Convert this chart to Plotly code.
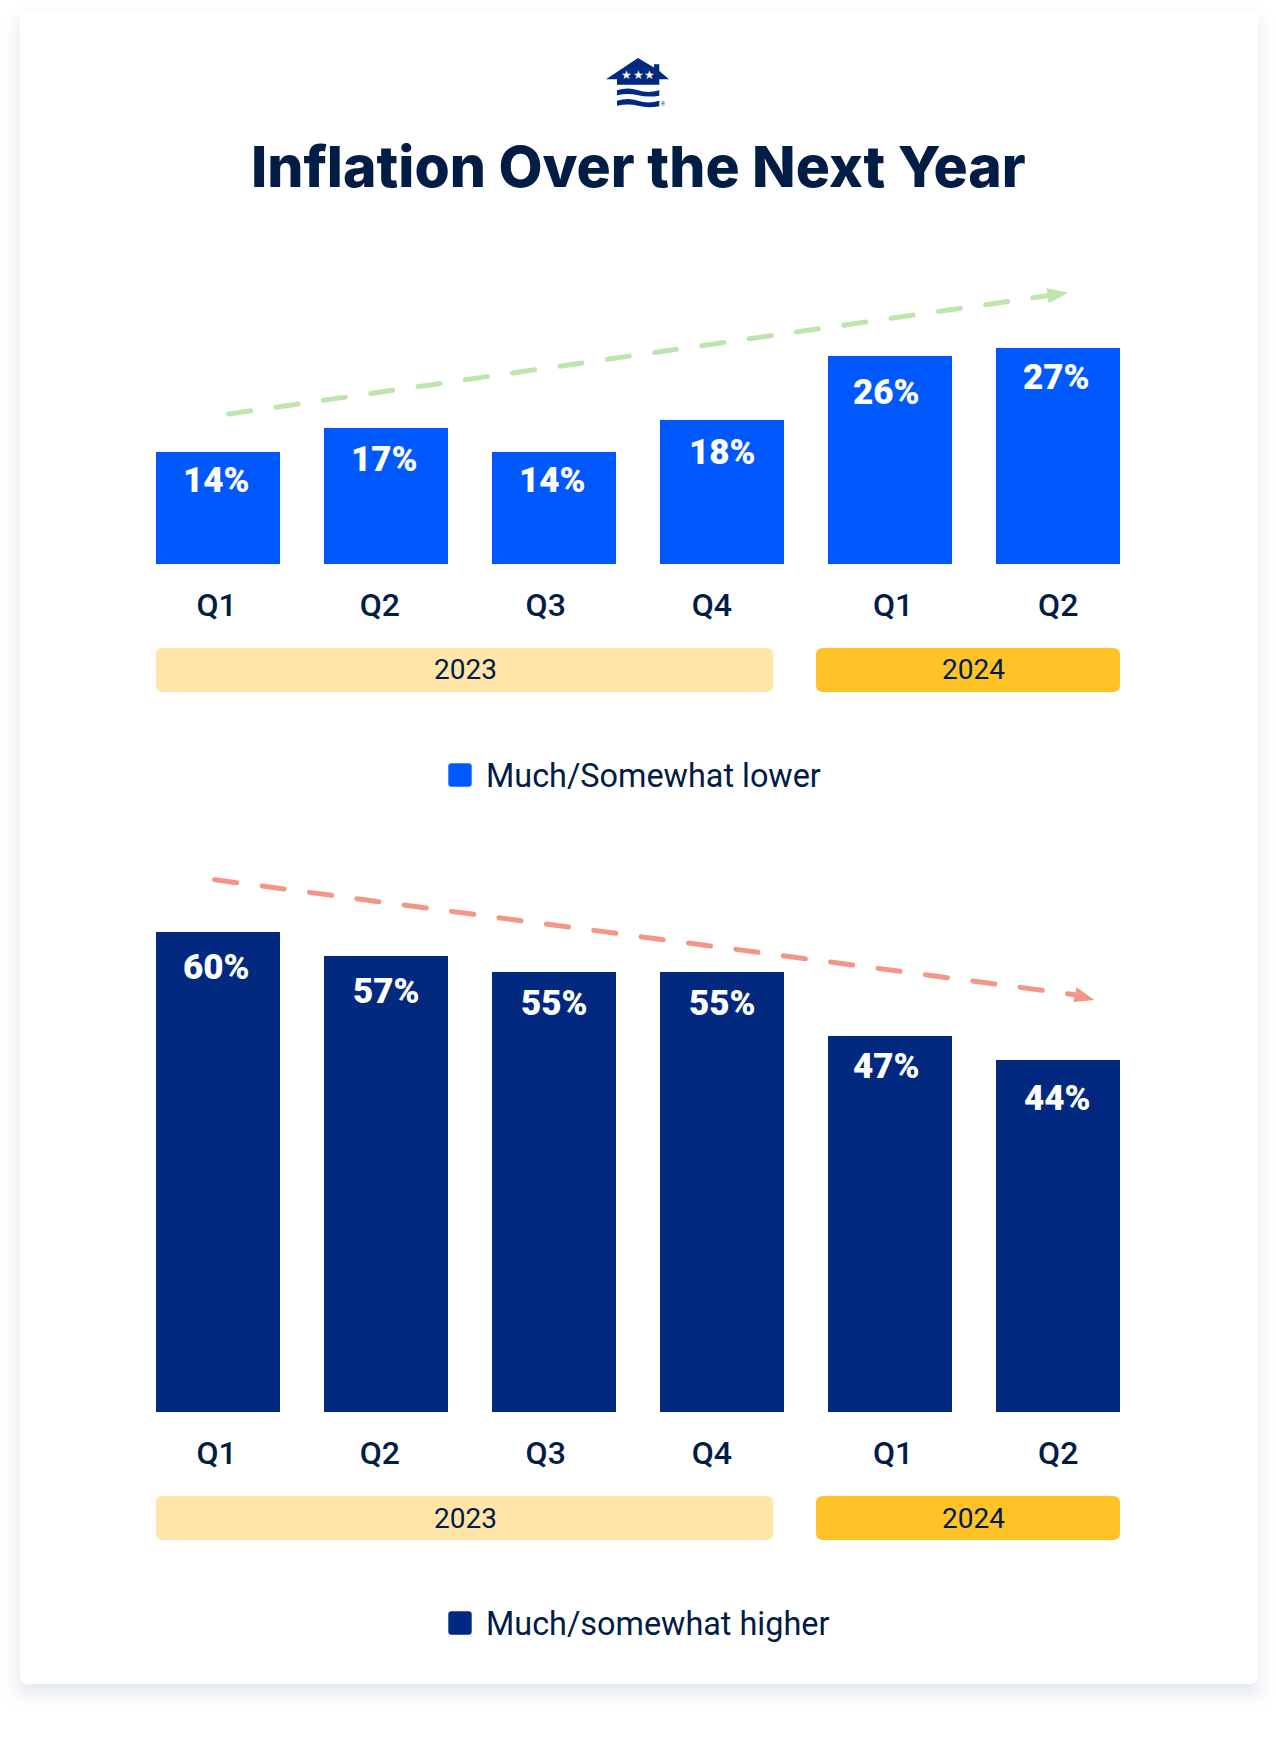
""" Inflation expectations chart """

import plotly.graph_objects as go

#### Data ####

quarters = ['Q1', 'Q2', 'Q3', 'Q4', 'Q1', 'Q2']
lower = [14, 17, 14, 18, 26, 27]
higher = [60, 57, 55, 55, 47, 44]
years = ['2023', '2024']
lower_name = 'Much/Somewhat lower'
higher_name = 'Much/somewhat higher'
title = 'Inflation Over the Next Year'

#### Colours, fonts and page layout (in pixels of the 1276x1742 page) ####

W, H = 1276, 1742
INK = '#011C45'
BLUE = '#0059FF'
NAVY = '#00297F'
PALE_GOLD = '#FFE6A8'
GOLD = '#FFC328'
GREEN = '#BFE5AE'
SALMON = '#F49586'
TITLE_FONT = 'Inter'
BODY_FONT = 'Roboto'

BAR_STEP = 168          # px between bar centres
BAR_W = 124
FIRST_BAR = 218

# the labels in the original sit slightly off the bar centres
tick_dx = [-1.5, -6.2, -8.3, -10.2, 3, 0.2]
lower_dx = [-1.3, -1.2, -1.3, 0.3, -3.3, -1.3]
lower_dy = [28.5, 31.5, 28.5, 32.3, 36.5, 30]
higher_dx = [-1.6, 0.7, 0.7, 0.3, -3.3, -1]
higher_dy = [35.7, 35.4, 31.7, 31.7, 30, 38.5]


def px(x):
    return x / W


def py(y):
    return 1 - y / H


def rounded(x0, y0, x1, y1, r):
    return (f'M {px(x0 + r)} {py(y0)} L {px(x1 - r)} {py(y0)} Q {px(x1)} {py(y0)} {px(x1)} {py(y0 + r)} '
            f'L {px(x1)} {py(y1 - r)} Q {px(x1)} {py(y1)} {px(x1 - r)} {py(y1)} '
            f'L {px(x0 + r)} {py(y1)} Q {px(x0)} {py(y1)} {px(x0)} {py(y1 - r)} '
            f'L {px(x0)} {py(y0 + r)} Q {px(x0)} {py(y0)} {px(x0 + r)} {py(y0)} Z')


def poly(points):
    return 'M ' + ' L '.join(f'{px(x)} {py(y)}' for x, y in points) + ' Z'


def path_shape(path, color, layer='below'):
    return dict(type='path', xref='paper', yref='paper', path=path, fillcolor=color,
                line=dict(width=0), layer=layer)


def text_note(x, y, text, size, color=INK, family=BODY_FONT, weight=400, xanchor='center'):
    return dict(xref='paper', yref='paper', x=px(x), y=py(y), text=text, showarrow=False,
                xanchor=xanchor, yanchor='middle', font=dict(family=family, size=size, color=color, weight=weight))


shapes = []
notes = []

#### Card with soft shadow ####

for e in range(24, -11, -2):
    t = ((24 - e) / 34) ** 2
    shade = f'rgb({round(255 - 31 * t)},{round(255 - 26 * t)},{round(255 - 14 * t)})'
    shapes.append(path_shape(rounded(20 - e, 22 - e, 1258 + e, 1694 + e, 10 + max(e, 0)), shade))
shapes.append(path_shape(rounded(20, 12, 1258, 1684, 8), '#FFFFFF'))

#### Logo ####

shapes.append(path_shape(poly([(638, 58), (654, 67.5), (654, 64.3), (659.3, 64.3), (659.3, 71), (669, 79.3),
                               (659.3, 79.3), (659.3, 84.7), (617, 84.7), (617, 79.3), (606, 79.3)]), NAVY))
for y0 in (88.7, 99.3):
    shapes.append(path_shape(
        f'M {px(617)} {py(y0 + 1.5)} Q {px(628)} {py(y0 - 2)} {px(638)} {py(y0 + 1.5)} '
        f'T {px(659.3)} {py(y0 + 1.5)} L {px(659.3)} {py(y0 + 7)} '
        f'Q {px(648)} {py(y0 + 9)} {px(638)} {py(y0 + 6.5)} T {px(617)} {py(y0 + 6.5)} Z', NAVY))
for sx in (626.3, 638, 649.3):
    notes.append(text_note(sx, 74.7, '★', 12, color='#FFFFFF', family='DejaVu Sans'))
notes.append(text_note(662.7, 104, '®', 5, color=NAVY))

notes.append(text_note(W / 2 + 0.8, 166, title, 57, family=TITLE_FONT, weight=800))

#### Charts ####

fig = go.Figure()


def add_chart(n, values, color, top_value, base, shift, label_dx, label_dy, legend, arrow):
    xa, ya = f'x{n}', f'y{n}'
    fig.add_trace(go.Bar(x=list(range(len(values))), y=values, marker=dict(color=color, line=dict(width=0)),
                         width=BAR_W / BAR_STEP, xaxis=xa, yaxis=ya, name=legend, showlegend=False,
                         hovertemplate='%{y}%<extra></extra>'))
    half = (BAR_W / 2) / BAR_STEP
    fig.update_layout({
        f'xaxis{n}': dict(domain=[px(FIRST_BAR - BAR_W / 2), px(FIRST_BAR + 5 * BAR_STEP + BAR_W / 2)],
                          range=[-half, 5 + half], anchor=ya, showgrid=False, zeroline=False, showline=False,
                          tickmode='array', tickvals=[i + d / BAR_STEP for i, d in enumerate(tick_dx)],
                          ticktext=quarters, ticks='outside', ticklen=12.5, tickcolor='rgba(0,0,0,0)',
                          tickfont=dict(family=BODY_FONT, size=32, color=INK, weight=500)),
        f'yaxis{n}': dict(domain=[py(base), py(base - top_value * 8)], range=[0, top_value], anchor=xa,
                          visible=False, showgrid=False, zeroline=False),
    })
    # value labels sit inside the top of every bar
    for i, v in enumerate(values):
        notes.append(dict(xref=xa, yref=ya, x=i + label_dx[i] / BAR_STEP, y=v, yshift=-label_dy[i], text=f'{v}%',
                          showarrow=False, xanchor='center', yanchor='middle',
                          font=dict(family=BODY_FONT, size=35, color='#FFFFFF', weight=900)))
    # year bands
    for (x0, x1, fill, tx), year in zip([(156, 773.3, PALE_GOLD, 465.3), (816, 1120, GOLD, 973.7)], years):
        shapes.append(path_shape(rounded(x0, 648 + shift, x1, 692 + shift, 7), fill))
        notes.append(text_note(tx, 670 + shift, year, 28))
    # legend
    shapes.append(path_shape(rounded(448.3, 763.3 + shift, 471.7, 786.7 + shift, 3), color))
    notes.append(text_note(483.5, 776 + shift, legend, 32.4, xanchor='left'))
    # trend arrow
    (x0, y0), (x1, y1), head = arrow
    shapes.append(dict(type='line', xref='paper', yref='paper', x0=px(x0 + 2), y0=py(y0), x1=px(x1), y1=py(y1),
                       line=dict(color=head[3], width=5, dash='22.3px,25.5px'), layer='above'))
    shapes.append(path_shape(poly(head[:3]), head[3], layer='above'))


add_chart(1, lower, BLUE, 30, 564, 0, lower_dx, lower_dy, lower_name,
          ((226.7, 414), (1047.7, 295.7), [(1046.7, 288), (1068.3, 292.7), (1048.7, 303.3), GREEN]))
add_chart(2, higher, NAVY, 60, 1412, 848, higher_dx, higher_dy, higher_name,
          ((212.7, 879.7), (1075, 994.7), [(1076.7, 987.3), (1094.3, 1000), (1073.3, 1002), SALMON]))

fig.update_layout(width=W, height=H, margin=dict(l=0, r=0, t=0, b=0), paper_bgcolor='#FFFFFF',
                  plot_bgcolor='rgba(0,0,0,0)', shapes=shapes, annotations=notes)

# round dash ends as in the original, page margin off
fig.write_html("out.html", config=dict(displayModeBar=False), post_script=(
    "document.body.style.margin='0';"
    "document.querySelectorAll('.shapelayer path').forEach(function(p){"
    "if(p.style.strokeDasharray && p.style.strokeDasharray!=='none'){p.style.strokeLinecap='round';}});"))
